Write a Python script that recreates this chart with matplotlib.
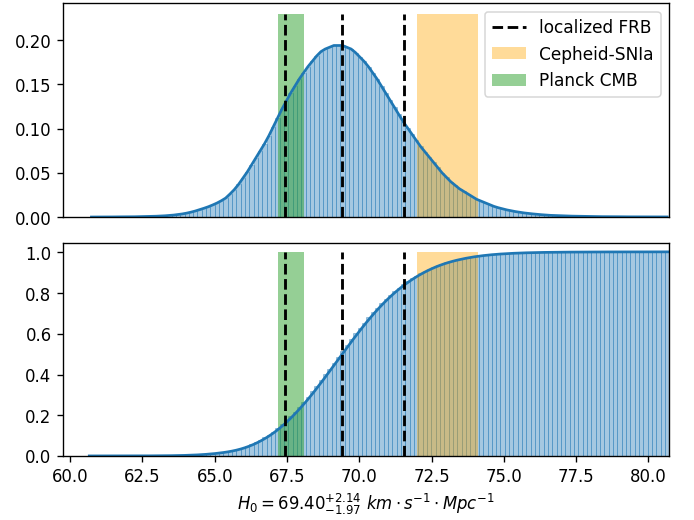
import numpy as np
from matplotlib import pyplot as plt

# H0 posterior: histogram range and bin densities
h0_min, h0_max = 60.66, 80.72
density = [
    0.0000, 0.0000, 0.0001, 0.0001, 0.0001, 0.0001, 0.0002, 0.0002, 0.0002, 0.0003,
    0.0003, 0.0004, 0.0005, 0.0006, 0.0007, 0.0009, 0.0011, 0.0014, 0.0018, 0.0022,
    0.0028, 0.0035, 0.0044, 0.0055, 0.0068, 0.0083, 0.0099, 0.0116, 0.0136, 0.0158,
    0.0184, 0.0214, 0.026, 0.031, 0.037, 0.044, 0.051, 0.059, 0.067, 0.075,
    0.083, 0.092, 0.102, 0.112, 0.122, 0.131, 0.140, 0.148, 0.156, 0.163,
    0.170, 0.176, 0.182, 0.187, 0.190, 0.192, 0.194, 0.194, 0.194, 0.192,
    0.190, 0.186, 0.181, 0.176, 0.170, 0.163, 0.156, 0.148, 0.140, 0.132,
    0.124, 0.116, 0.108, 0.101, 0.094, 0.087, 0.080, 0.074, 0.068, 0.062,
    0.056, 0.050, 0.045, 0.040, 0.036, 0.032, 0.029, 0.026, 0.023, 0.020,
    0.018, 0.016, 0.014, 0.012, 0.0105, 0.0092, 0.0080, 0.0070, 0.0061, 0.0053,
    0.0046, 0.0040, 0.0035, 0.0030, 0.0026, 0.0022, 0.0019, 0.0017, 0.0015, 0.0013,
    0.0011, 0.0010, 0.0009, 0.0008, 0.0007, 0.0006, 0.0005, 0.0005, 0.0004, 0.0004,
    0.0003, 0.0003, 0.0003, 0.0002, 0.0002, 0.0002, 0.0002, 0.0001, 0.0001, 0.0001,
    0.0001, 0.0001, 0.0001, 0.0001,
]

# median and 1-sigma bounds of the FRB estimate
frb_lines = [67.43, 69.40, 71.54]
# reference measurements (low, high)
cepheid = (72.0, 74.1)
planck = (67.2, 68.1)

pdf_top = 0.23
cdf_top = 1.0

plt.rcParams.update({
    'font.size': 11,
    'axes.linewidth': 0.9,
    'xtick.major.size': 3.9,
    'ytick.major.size': 3.9,
    'xtick.major.width': 0.9,
    'ytick.major.width': 0.9,
})


def plot_h0():
    density_arr = np.array(density)
    edges = np.linspace(h0_min, h0_max, len(density_arr) + 1)
    centers = 0.5 * (edges[:-1] + edges[1:])
    width = edges[1] - edges[0]
    cdf = np.concatenate([[0.0], np.cumsum(density_arr * width)])

    fig = plt.figure(figsize=(6.4, 4.8), dpi=108.44)
    ax1 = fig.add_axes([0.0903, 0.5821, 0.8741, 0.4102])
    ax2 = fig.add_axes([0.0903, 0.1231, 0.8741, 0.4090], sharex=ax1)

    # densidad
    ax1.hist(centers, bins=edges, weights=density_arr, color='C0', alpha=0.4,
             edgecolor='C0', linewidth=0.6)
    ax1.plot(centers, density_arr, color='C0', lw=1.8)
    ax1.vlines(frb_lines, 0, pdf_top, colors='k', linestyles='--', lw=1.9,
               label='localized FRB')
    ax1.fill_betweenx([0, pdf_top], *cepheid, color='orange', alpha=0.4,
                      lw=0, label='Cepheid-SNIa')
    ax1.fill_betweenx([0, pdf_top], *planck, color='C2', alpha=0.5,
                      lw=0, label='Planck CMB')
    ax1.set_ylim(0, pdf_top * 1.05)
    ax1.set_yticks([0.0, 0.05, 0.10, 0.15, 0.20])
    ax1.tick_params(axis='x', bottom=False, labelbottom=False)
    ax1.legend(loc='upper right', fontsize=11.3)

    # acumulada
    ax2.hist(centers, bins=edges, weights=density_arr * width, cumulative=True,
             color='C0', alpha=0.4, edgecolor='C0', linewidth=0.6)
    ax2.plot(edges, cdf, color='C0', lw=1.8)
    ax2.vlines(frb_lines, 0, cdf_top, colors='k', linestyles='--', lw=1.9)
    ax2.fill_betweenx([0, cdf_top], *cepheid, color='orange', alpha=0.4, lw=0)
    ax2.fill_betweenx([0, cdf_top], *planck, color='C2', alpha=0.5, lw=0)
    ax2.set_ylim(0, cdf_top * 1.046)
    ax2.set_yticks([0.0, 0.2, 0.4, 0.6, 0.8, 1.0])

    ax2.set_xlim(59.74, 80.72)
    ax2.set_xticks([60.0, 62.5, 65.0, 67.5, 70.0, 72.5, 75.0, 77.5, 80.0])
    ax2.set_xlabel(r'$H_0 = 69.40^{+2.14}_{-1.97}\ km \cdot s^{-1} \cdot Mpc^{-1}$')

    fig.savefig('out.png', dpi=108.44)


if __name__ == "__main__":
    plot_h0()
